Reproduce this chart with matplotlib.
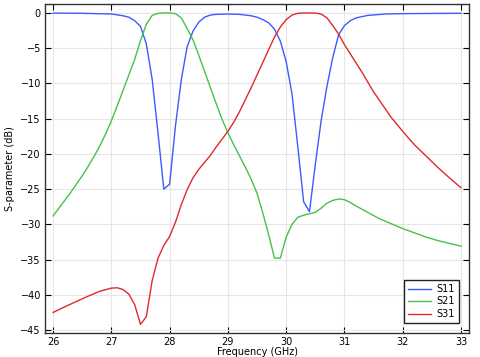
import numpy as np
import matplotlib
matplotlib.use('Agg')  # no display
import matplotlib.pyplot as plt

# Frequency grid (GHz) and S-parameters (dB)
freq_s11 = [26.0, 26.5, 27.0, 27.2, 27.3, 27.4, 27.5, 27.6, 27.7, 27.8, 27.9, 28.0,
            28.1, 28.2, 28.3, 28.4, 28.5, 28.6, 28.7, 28.8, 29.0, 29.2, 29.4, 29.5,
            29.6, 29.7, 29.8, 29.9, 30.0, 30.1, 30.2, 30.3, 30.4, 30.5, 30.6, 30.7,
            30.8, 30.9, 31.0, 31.1, 31.2, 31.4, 31.7, 32.0, 32.5, 33.0]
s11 = [-0.02, -0.05, -0.15, -0.4, -0.6, -1.1, -1.9, -4.4, -9.4, -17.0, -25.0, -24.3,
       -16.0, -9.5, -4.8, -2.6, -1.3, -0.6, -0.3, -0.2, -0.15, -0.2, -0.4, -0.6,
       -0.95, -1.4, -2.3, -4.0, -6.9, -11.5, -19.0, -26.8, -28.2, -21.5, -15.3, -10.4,
       -6.3, -3.1, -1.8, -1.1, -0.7, -0.35, -0.15, -0.1, -0.07, -0.05]

freq_s21 = [26.0, 26.1, 26.2, 26.3, 26.4, 26.5, 26.6, 26.7, 26.8, 26.9, 27.0, 27.1,
            27.2, 27.3, 27.4, 27.5, 27.6, 27.7, 27.8, 27.9, 28.0, 28.1, 28.2, 28.3,
            28.4, 28.5, 28.6, 28.7, 28.8, 28.9, 29.0, 29.1, 29.2, 29.3, 29.4, 29.5,
            29.6, 29.7, 29.8, 29.9, 30.0, 30.1, 30.2, 30.3, 30.4, 30.5, 30.6, 30.7,
            30.8, 30.9, 31.0, 31.1, 31.2, 31.3, 31.4, 31.5, 31.6, 31.8, 32.0, 32.2,
            32.4, 32.6, 32.8, 33.0]
s21 = [-28.8, -27.7, -26.6, -25.5, -24.3, -23.1, -21.8, -20.4, -18.9, -17.2, -15.3, -13.2,
       -11.0, -8.8, -6.6, -3.9, -1.6, -0.35, -0.05, 0.0, 0.0, -0.1, -0.7, -2.2,
       -3.8, -6.0, -8.3, -10.6, -12.9, -15.1, -17.0, -18.7, -20.3, -21.9, -23.6, -25.6,
       -28.4, -31.5, -34.8, -34.8, -31.8, -30.0, -29.0, -28.7, -28.5, -28.3, -27.7, -27.0,
       -26.6, -26.4, -26.5, -26.9, -27.4, -27.85, -28.3, -28.75, -29.2, -29.9, -30.6, -31.2,
       -31.8, -32.3, -32.7, -33.1]

freq_s31 = [26.0, 26.2, 26.4, 26.6, 26.8, 27.0, 27.1, 27.2, 27.3, 27.4, 27.5, 27.6,
            27.7, 27.8, 27.9, 28.0, 28.1, 28.2, 28.3, 28.4, 28.5, 28.6, 28.7, 28.8,
            28.9, 29.0, 29.1, 29.2, 29.3, 29.4, 29.5, 29.6, 29.7, 29.8, 29.9, 30.0,
            30.1, 30.2, 30.3, 30.4, 30.5, 30.6, 30.7, 30.8, 30.9, 31.0, 31.1, 31.2,
            31.3, 31.4, 31.5, 31.6, 31.7, 31.8, 31.9, 32.0, 32.2, 32.4, 32.6, 32.8, 33.0]
s31 = [-42.5, -41.7, -40.95, -40.2, -39.5, -39.05, -39.0, -39.25, -39.9, -41.4, -44.2, -43.1,
       -38.0, -34.8, -33.0, -31.7, -29.7, -27.2, -25.1, -23.4, -22.2, -21.2, -20.2, -19.0,
       -17.9, -16.8, -15.5, -14.0, -12.3, -10.6, -8.8, -7.0, -5.2, -3.4, -2.0, -0.95,
       -0.3, -0.05, 0.0, 0.0, -0.02, -0.15, -0.7, -1.8, -3.0, -4.5, -5.8, -7.1,
       -8.4, -9.8, -11.2, -12.4, -13.6, -14.8, -15.8, -16.8, -18.7, -20.3, -21.9, -23.4, -24.8]

x_ticks = [26, 27, 28, 29, 30, 31, 32, 33]
y_ticks = [0, -5, -10, -15, -20, -25, -30, -35, -40, -45]

plt.rcParams['font.family'] = 'DejaVu Sans'

fig = plt.figure(figsize=(4.8, 3.57), dpi=100)
ax = fig.add_axes([0.094, 0.067, 0.883, 0.922])

ax.plot(freq_s11, s11, color='#3b5bff', lw=1.0, label='S11')
ax.plot(freq_s21, s21, color='#45c24c', lw=1.0, label='S21')
ax.plot(freq_s31, s31, color='#e02a2a', lw=1.0, label='S31')

ax.set_xlim(25.863, 33.137)
ax.set_ylim(-45.43, 1.28)
ax.set_xticks(x_ticks)
ax.set_yticks(y_ticks)
ax.grid(True, color='#e6e6e6', lw=0.8)
ax.set_axisbelow(True)
ax.tick_params(direction='in', top=True, right=True, labelsize=7, length=4,
               width=0.8, pad=3)
for sp in ax.spines.values():
    sp.set_color('#333333')
    sp.set_linewidth(1.0)

ax.set_xlabel('Frequency (GHz)', fontsize=7, labelpad=0)
ax.set_ylabel('S-parameter (dB)', fontsize=7, labelpad=4)

leg = ax.legend(loc='lower right', fontsize=7, fancybox=False, framealpha=1,
                edgecolor='#222222', handlelength=2.4, handletextpad=0.5,
                borderpad=0.45, labelspacing=0.25,
                bbox_to_anchor=(0.988, 0.015))
leg.get_frame().set_linewidth(1.0)

fig.savefig('out.png', dpi=100)
